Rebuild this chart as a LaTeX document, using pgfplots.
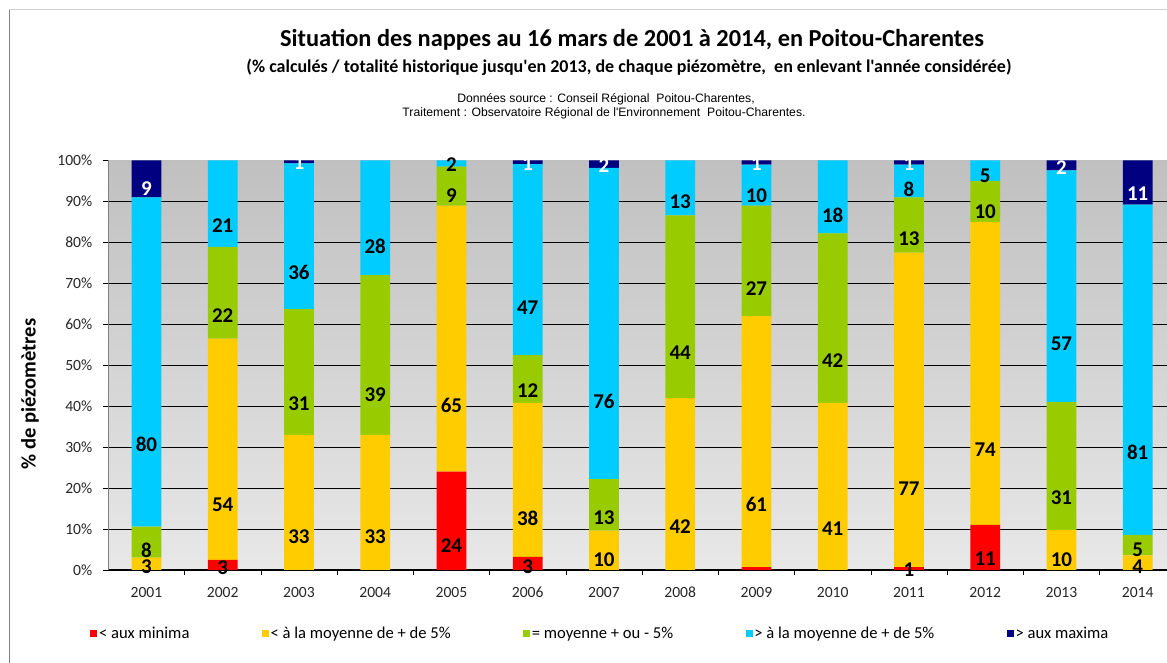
\documentclass[border=0pt]{standalone}
\usepackage{fontspec}
\setmainfont{Carlito}
\newfontfamily\carl{Carlito}
\newfontfamily\arialf{Liberation Sans}
\usepackage{pgfplots}
\usepackage{pgfplotstable}
\pgfplotsset{compat=1.18}

\definecolor{cmin}{HTML}{FF0000}
\definecolor{cbas}{HTML}{FFCC00}
\definecolor{cmoy}{HTML}{99CC00}
\definecolor{chaut}{HTML}{00CCFF}
\definecolor{cmax}{HTML}{000080}
\definecolor{bgtop}{HTML}{C0C0C0}
\definecolor{bgbot}{HTML}{E8E8E8}
\definecolor{framel}{HTML}{808080}
\definecolor{framet}{HTML}{D0D0D0}

% h = hauteur du segment (%), lab = etiquette affichee
\pgfplotstableread{
x h lab
0 0 {}
1 2.5 3
2 0 {}
3 0 {}
4 24 24
5 3.2 3
6 0 {}
7 0 {}
8 0.7 {}
9 0 {}
10 0.7 1
11 11 11
12 0 {}
13 0 {}
}\tmin
\pgfplotstableread{
x h lab
0 3 3
1 54 54
2 33 33
3 33 33
4 65 65
5 37.6 38
6 9.6 10
7 42 42
8 61.3 61
9 40.8 41
10 76.8 77
11 74 74
12 9.8 10
13 3.6 4
}\tbas
\pgfplotstableread{
x h lab
0 7.6 8
1 22.4 22
2 30.7 31
3 39 39
4 9.5 9
5 11.7 12
6 12.6 13
7 44.6 44
8 27 27
9 41.4 42
10 13.5 13
11 10 10
12 31.2 31
13 5 5
}\tmoy
\pgfplotstableread{
x h lab
0 80.4 80
1 21.1 21
2 35.6 36
3 28 28
4 1.5 2
5 46.6 47
6 76 76
7 13.4 13
8 10 10
9 17.8 18
10 8 8
11 5 5
12 56.6 57
13 80.6 81
}\thaut
\pgfplotstableread{
x h lab
0 9 9
1 0 {}
2 0.7 1
3 0 {}
4 0 {}
5 0.9 1
6 1.8 2
7 0 {}
8 1 1
9 0 {}
10 1 1
11 0 {}
12 2.4 2
13 10.8 11
}\tmax

\begin{document}
\begin{tikzpicture}
\useasboundingbox (0,0) rectangle (583.5pt,331.5pt);
\begin{scope}
\clip (0,0) rectangle (583.5pt,331.5pt);
\begin{axis}[
  at={(54.15pt,46.5pt)}, anchor=south west,
  scale only axis, width=533.75pt, height=204.75pt,
  ybar stacked, bar width=0.39,
  xmin=-0.5, xmax=13.5, ymin=0, ymax=100,
  axis background/.style={shade, top color=bgtop, bottom color=bgbot},
  axis x line*=bottom, axis y line*=left,
  x axis line style={black, line width=0.8pt},
  y axis line style={framel},
  tick align=outside,
  major tick length=2.5pt, minor tick length=2.5pt,
  xtick={0,...,13},
  xticklabels={2001,2002,2003,2004,2005,2006,2007,2008,2009,2010,2011,2012,2013,2014},
  major x tick style={draw=none},
  minor xtick={0.5,1.5,...,12.5},
  minor x tick style={black},
  ytick={0,10,...,100},
  minor ytick={10,20,...,90},
  yminorgrids, minor y grid style={black, line width=0.5pt},
  y tick style={black},
  yticklabel={\pgfmathprintnumber{\tick}\%},
  /pgf/number format/assume math mode=true,
  typeset ticklabels with strut,
  ticklabel style={font=\fontsize{7.8}{9}\selectfont, text=black!85},
  xticklabel style={yshift=-1.5pt},
  yticklabel style={xshift=-2pt},
  point meta=explicit symbolic,
  visualization depends on={\thisrow{h} \as \hh},
  nodes near coords,
  nodes near coords style={font=\bfseries\fontsize{10.5}{11}\selectfont, anchor=center,
    inner sep=0pt, shift={(axis direction cs:0,-\hh/4)}},
  legend columns=-1, legend cell align=left,
  legend style={at={(-0.0171,-0.1563)}, anchor=west, draw=none, fill=none,
    inner sep=0pt, font=\fontsize{8.3}{10}\selectfont,
    nodes={inner sep=0.8pt},
    /tikz/every even column/.append style={column sep=35.5pt}},
  legend image code/.code={\fill[#1,draw=none] (0pt,-1.75pt) rectangle (3.5pt,1.75pt);},
]
\addplot[fill=cmin, draw=none] table[x=x, y=h, meta=lab] {\tmin};
\addplot[fill=cbas, draw=none] table[x=x, y=h, meta=lab] {\tbas};
\addplot[fill=cmoy, draw=none] table[x=x, y=h, meta=lab] {\tmoy};
\addplot[fill=chaut, draw=none] table[x=x, y=h, meta=lab] {\thaut};
\addplot[fill=cmax, draw=none, nodes near coords style={text=white}] table[x=x, y=h, meta=lab] {\tmax};
\legend{< aux minima, < à la moyenne de + de 5\%, = moyenne + ou - 5\%, > à la moyenne de + de 5\%, > aux maxima}
\end{axis}
\end{scope}
\draw[framel] (4.5pt,0) -- (4.5pt,327pt);
\draw[framet] (4.5pt,327pt) -- (583.5pt,327pt);
\node[font=\bfseries\fontsize{12.2}{14}\selectfont] at (316pt,311.5pt)
  {Situation des nappes au 16 mars de 2001 à 2014, en Poitou-Charentes};
\node[font=\carl\bfseries\fontsize{9}{11}\selectfont] at (314.5pt,298pt)
  {(\% calculés / totalité historique jusqu'en 2013, de chaque piézomètre,\ \ en enlevant l'année considérée)};
\node[font=\arialf\fontsize{6.1}{7}\selectfont] at (303pt,282pt)
  {Données source : Conseil Régional\ \ Poitou-Charentes,};
\node[font=\arialf\fontsize{6.1}{7}\selectfont] at (302pt,275pt)
  {Traitement : Observatoire Régional de l'Environnement\ \ Poitou-Charentes.};
\node[font=\bfseries\fontsize{10.3}{12}\selectfont, rotate=90] at (15pt,134.5pt)
  {\% de piézomètres};
\end{tikzpicture}
\end{document}
